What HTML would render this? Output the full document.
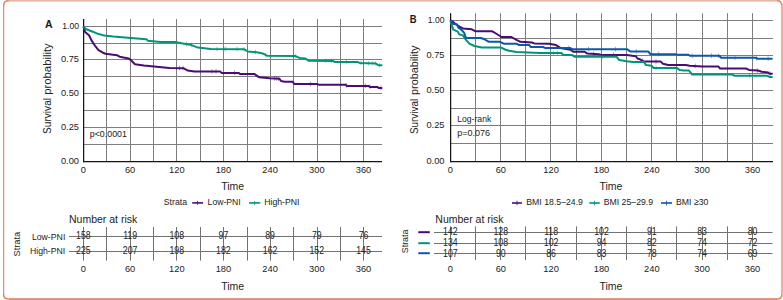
<!DOCTYPE html><html><head><meta charset="utf-8"><style>html,body{margin:0;padding:0;background:#fff;width:783px;height:300px;overflow:hidden}svg{display:block}text{font-family:"Liberation Sans",sans-serif}</style></head><body>
<svg width="783" height="300" viewBox="0 0 783 300">
<rect x="0" y="0" width="783" height="300" fill="#fff"/>
<rect x="8" y="0" width="769" height="1.6" fill="#edb4a5"/>
<rect x="780.9" y="5.5" width="2.1" height="288.5" fill="#ecb1a4"/>
<rect x="3" y="5.5" width="1.25" height="288.5" fill="#e88c72"/>
<rect x="8.5" y="298.2" width="768.5" height="1.8" fill="#e8856b"/>
<path d="M3.62,6 Q3.62,0.8 8.5,0.8 M777,0.8 Q781.9,0.8 781.9,5.8 M781.9,294 Q781.9,299.1 777,299.1 M3.62,294 Q3.62,299.1 8.5,299.1" fill="none" stroke="#e8845e" stroke-width="1.5"/>
<line x1="106.5" y1="19" x2="106.5" y2="161" stroke="#7d7d7d" stroke-width="1.05"/>
<line x1="130.5" y1="19" x2="130.5" y2="161" stroke="#7d7d7d" stroke-width="1.05"/>
<line x1="153.5" y1="19" x2="153.5" y2="161" stroke="#7d7d7d" stroke-width="1.05"/>
<line x1="176.5" y1="19" x2="176.5" y2="161" stroke="#7d7d7d" stroke-width="1.05"/>
<line x1="200.5" y1="19" x2="200.5" y2="161" stroke="#7d7d7d" stroke-width="1.05"/>
<line x1="223.5" y1="19" x2="223.5" y2="161" stroke="#7d7d7d" stroke-width="1.05"/>
<line x1="247.5" y1="19" x2="247.5" y2="161" stroke="#7d7d7d" stroke-width="1.05"/>
<line x1="270.5" y1="19" x2="270.5" y2="161" stroke="#7d7d7d" stroke-width="1.05"/>
<line x1="293.5" y1="19" x2="293.5" y2="161" stroke="#7d7d7d" stroke-width="1.05"/>
<line x1="317.5" y1="19" x2="317.5" y2="161" stroke="#7d7d7d" stroke-width="1.05"/>
<line x1="340.5" y1="19" x2="340.5" y2="161" stroke="#7d7d7d" stroke-width="1.05"/>
<line x1="363.5" y1="19" x2="363.5" y2="161" stroke="#7d7d7d" stroke-width="1.05"/>
<line x1="84" y1="26.5" x2="382" y2="26.5" stroke="#7d7d7d" stroke-width="1.05"/>
<line x1="84" y1="43.5" x2="382" y2="43.5" stroke="#7d7d7d" stroke-width="1.05"/>
<line x1="84" y1="59.5" x2="382" y2="59.5" stroke="#7d7d7d" stroke-width="1.05"/>
<line x1="84" y1="76.5" x2="382" y2="76.5" stroke="#7d7d7d" stroke-width="1.05"/>
<line x1="84" y1="93.5" x2="382" y2="93.5" stroke="#7d7d7d" stroke-width="1.05"/>
<line x1="84" y1="110.5" x2="382" y2="110.5" stroke="#7d7d7d" stroke-width="1.05"/>
<line x1="84" y1="127.5" x2="382" y2="127.5" stroke="#7d7d7d" stroke-width="1.05"/>
<line x1="84" y1="144.5" x2="382" y2="144.5" stroke="#7d7d7d" stroke-width="1.05"/>
<line x1="83.62" y1="19" x2="83.62" y2="162.2" stroke="#151515" stroke-width="1.25"/>
<line x1="83" y1="161.6" x2="382" y2="161.6" stroke="#151515" stroke-width="1.2"/>
<polyline points="83.4,26.4 85.1,32.0 89.0,35.3 91.5,40.4 95.3,46.2 98.5,50.1 103.0,52.7 105.5,53.7 117.0,55.2 119.6,56.7 128.5,58.4 131.0,60.3 135.0,64.2 143.9,65.4 156.6,66.7 169.4,68.0 183.3,68.2 187.8,70.6 194.2,71.6 220.3,71.6 221.6,72.9 238.9,72.9 240.0,73.9 254.2,73.9 259.3,77.3 269.5,78.2 279.5,78.8 281.0,81.0 284.7,81.7 292.8,81.7 294.2,84.0 317.0,84.0 318.5,84.7 345.6,84.7 347.0,85.9 368.4,85.9 369.9,86.9 377.2,86.9 378.7,87.9 382.3,87.9" fill="none" stroke="#4b0c72" stroke-width="2.0" stroke-linejoin="round" stroke-linecap="butt"/>
<line x1="179.5" y1="65.7" x2="179.5" y2="70.3" stroke="#4b0c72" stroke-width="0.9" opacity="0.5"/>
<line x1="183" y1="65.8" x2="183" y2="70.4" stroke="#4b0c72" stroke-width="0.9" opacity="0.5"/>
<line x1="212" y1="69.2" x2="212" y2="73.8" stroke="#4b0c72" stroke-width="0.9" opacity="0.5"/>
<line x1="216" y1="69.2" x2="216" y2="73.8" stroke="#4b0c72" stroke-width="0.9" opacity="0.5"/>
<line x1="234.5" y1="70.5" x2="234.5" y2="75.1" stroke="#4b0c72" stroke-width="0.9" opacity="0.5"/>
<line x1="274.4" y1="76.1" x2="274.4" y2="80.7" stroke="#4b0c72" stroke-width="0.9" opacity="0.5"/>
<line x1="276.6" y1="76.2" x2="276.6" y2="80.8" stroke="#4b0c72" stroke-width="0.9" opacity="0.5"/>
<line x1="278.8" y1="76.4" x2="278.8" y2="81.0" stroke="#4b0c72" stroke-width="0.9" opacity="0.5"/>
<line x1="310.4" y1="81.6" x2="310.4" y2="86.2" stroke="#4b0c72" stroke-width="0.9" opacity="0.5"/>
<line x1="346.4" y1="83.0" x2="346.4" y2="87.6" stroke="#4b0c72" stroke-width="0.9" opacity="0.5"/>
<line x1="365.4" y1="83.5" x2="365.4" y2="88.1" stroke="#4b0c72" stroke-width="0.9" opacity="0.5"/>
<line x1="369.9" y1="84.5" x2="369.9" y2="89.1" stroke="#4b0c72" stroke-width="0.9" opacity="0.5"/>
<line x1="380.9" y1="85.5" x2="380.9" y2="90.1" stroke="#4b0c72" stroke-width="0.9" opacity="0.5"/>
<polyline points="83.4,26.4 85.7,29.0 92.8,31.7 97.9,33.8 104.3,35.6 113.2,36.6 131.0,37.9 146.4,39.2 147.7,40.7 160.5,42.0 175.0,42.1 182.7,43.4 191.6,45.1 198.0,47.6 210.8,48.9 244.0,49.2 247.8,51.5 256.7,52.3 263.0,53.6 267.0,55.7 295.0,55.9 299.4,57.9 305.2,58.4 308.5,60.7 333.1,60.9 334.6,62.0 358.0,62.0 359.6,63.0 375.7,63.5 378.7,65.3 382.3,65.3" fill="none" stroke="#009479" stroke-width="2.0" stroke-linejoin="round" stroke-linecap="butt"/>
<line x1="186.5" y1="41.7" x2="186.5" y2="46.3" stroke="#009479" stroke-width="0.9" opacity="0.5"/>
<line x1="191.6" y1="42.7" x2="191.6" y2="47.3" stroke="#009479" stroke-width="0.9" opacity="0.5"/>
<line x1="217" y1="46.6" x2="217" y2="51.2" stroke="#009479" stroke-width="0.9" opacity="0.5"/>
<line x1="224" y1="46.6" x2="224" y2="51.2" stroke="#009479" stroke-width="0.9" opacity="0.5"/>
<line x1="226" y1="46.6" x2="226" y2="51.2" stroke="#009479" stroke-width="0.9" opacity="0.5"/>
<line x1="237" y1="46.7" x2="237" y2="51.3" stroke="#009479" stroke-width="0.9" opacity="0.5"/>
<line x1="244" y1="46.8" x2="244" y2="51.4" stroke="#009479" stroke-width="0.9" opacity="0.5"/>
<line x1="255.5" y1="49.8" x2="255.5" y2="54.4" stroke="#009479" stroke-width="0.9" opacity="0.5"/>
<line x1="265.7" y1="52.6" x2="265.7" y2="57.2" stroke="#009479" stroke-width="0.9" opacity="0.5"/>
<line x1="295.7" y1="53.8" x2="295.7" y2="58.4" stroke="#009479" stroke-width="0.9" opacity="0.5"/>
<line x1="325.8" y1="58.4" x2="325.8" y2="63.0" stroke="#009479" stroke-width="0.9" opacity="0.5"/>
<line x1="331.7" y1="58.5" x2="331.7" y2="63.1" stroke="#009479" stroke-width="0.9" opacity="0.5"/>
<line x1="346.4" y1="59.6" x2="346.4" y2="64.2" stroke="#009479" stroke-width="0.9" opacity="0.5"/>
<line x1="361" y1="60.6" x2="361" y2="65.2" stroke="#009479" stroke-width="0.9" opacity="0.5"/>
<line x1="368.4" y1="60.9" x2="368.4" y2="65.5" stroke="#009479" stroke-width="0.9" opacity="0.5"/>
<line x1="372.8" y1="61.0" x2="372.8" y2="65.6" stroke="#009479" stroke-width="0.9" opacity="0.5"/>
<line x1="375.7" y1="61.1" x2="375.7" y2="65.7" stroke="#009479" stroke-width="0.9" opacity="0.5"/>
<line x1="379.4" y1="62.9" x2="379.4" y2="67.5" stroke="#009479" stroke-width="0.9" opacity="0.5"/>
<text transform="translate(79,29.4) scale(0.9,1)" font-size="9.6" text-anchor="end" font-weight="normal" fill="#222222" >1.00</text>
<text transform="translate(79,62.4) scale(0.97,1)" font-size="9.6" text-anchor="end" font-weight="normal" fill="#222222" >0.75</text>
<text transform="translate(79,96.4) scale(0.97,1)" font-size="9.6" text-anchor="end" font-weight="normal" fill="#222222" >0.50</text>
<text transform="translate(79,130.4) scale(0.97,1)" font-size="9.6" text-anchor="end" font-weight="normal" fill="#222222" >0.25</text>
<text transform="translate(79,163.5) scale(0.97,1)" font-size="9.6" text-anchor="end" font-weight="normal" fill="#222222" >0.00</text>
<text transform="translate(83.4,172.9) scale(0.97,1)" font-size="9.6" text-anchor="middle" font-weight="normal" fill="#222222" >0</text>
<text transform="translate(130.1,172.9) scale(0.97,1)" font-size="9.6" text-anchor="middle" font-weight="normal" fill="#222222" >60</text>
<text transform="translate(176.8,172.9) scale(0.97,1)" font-size="9.6" text-anchor="middle" font-weight="normal" fill="#222222" >120</text>
<text transform="translate(223.4,172.9) scale(0.97,1)" font-size="9.6" text-anchor="middle" font-weight="normal" fill="#222222" >180</text>
<text transform="translate(270.1,172.9) scale(0.97,1)" font-size="9.6" text-anchor="middle" font-weight="normal" fill="#222222" >240</text>
<text transform="translate(316.8,172.9) scale(0.97,1)" font-size="9.6" text-anchor="middle" font-weight="normal" fill="#222222" >300</text>
<text transform="translate(363.5,172.9) scale(0.97,1)" font-size="9.6" text-anchor="middle" font-weight="normal" fill="#222222" >360</text>
<text x="45" y="27.7" font-size="10.5" text-anchor="start" font-weight="bold" fill="#1a1a1a" >A</text>
<text transform="translate(50.5,133.9) rotate(-90)" font-size="10.5" fill="#222222" textLength="35.9" lengthAdjust="spacingAndGlyphs">Survival</text>
<text transform="translate(50.5,94.7) rotate(-90)" font-size="10.5" fill="#222222" textLength="51.4" lengthAdjust="spacingAndGlyphs">probability</text>
<text transform="translate(89.8,137) scale(0.92,1)" font-size="9.6" text-anchor="start" font-weight="normal" fill="#222222" >p&lt;0.0001</text>
<text x="232.7" y="190" font-size="10.5" text-anchor="middle" font-weight="normal" fill="#222222" >Time</text>
<text transform="translate(163.8,204.8) scale(0.89,1)" font-size="9.8" text-anchor="start" font-weight="normal" fill="#222222" >Strata</text>
<line x1="192.2" y1="202.9" x2="203" y2="202.9" stroke="#4b0c72" stroke-width="1.6"/>
<line x1="197.6" y1="200.8" x2="197.6" y2="205" stroke="#4b0c72" stroke-width="0.7"/>
<text transform="translate(207.6,204.8) scale(0.8811,1)" font-size="9.8" text-anchor="start" font-weight="normal" fill="#222222" >Low-PNI</text>
<line x1="249" y1="202.9" x2="260.3" y2="202.9" stroke="#009479" stroke-width="1.6"/>
<line x1="254.6" y1="200.8" x2="254.6" y2="205" stroke="#009479" stroke-width="0.7"/>
<text transform="translate(264.2,204.8) scale(0.89,1)" font-size="9.8" text-anchor="start" font-weight="normal" fill="#222222" >High-PNI</text>
<text x="69" y="223" font-size="10.5" text-anchor="start" font-weight="normal" fill="#222222" >Number at risk</text>
<text transform="translate(19.8,244.2) rotate(-90) scale(1.05,1)" font-size="8.8" text-anchor="middle" fill="#222222">Strata</text>
<text transform="translate(65.3,239.8) scale(0.89,1)" font-size="9.8" text-anchor="end" font-weight="normal" fill="#222222" >Low-PNI</text>
<text transform="translate(65.3,254) scale(0.89,1)" font-size="9.8" text-anchor="end" font-weight="normal" fill="#222222" >High-PNI</text>
<line x1="83.5" y1="227" x2="83.5" y2="260.6" stroke="#727272" stroke-width="1.05"/>
<line x1="106.5" y1="227" x2="106.5" y2="260.6" stroke="#727272" stroke-width="1.05"/>
<line x1="130.5" y1="227" x2="130.5" y2="260.6" stroke="#727272" stroke-width="1.05"/>
<line x1="153.5" y1="227" x2="153.5" y2="260.6" stroke="#727272" stroke-width="1.05"/>
<line x1="176.5" y1="227" x2="176.5" y2="260.6" stroke="#727272" stroke-width="1.05"/>
<line x1="200.5" y1="227" x2="200.5" y2="260.6" stroke="#727272" stroke-width="1.05"/>
<line x1="223.5" y1="227" x2="223.5" y2="260.6" stroke="#727272" stroke-width="1.05"/>
<line x1="247.5" y1="227" x2="247.5" y2="260.6" stroke="#727272" stroke-width="1.05"/>
<line x1="270.5" y1="227" x2="270.5" y2="260.6" stroke="#727272" stroke-width="1.05"/>
<line x1="293.5" y1="227" x2="293.5" y2="260.6" stroke="#727272" stroke-width="1.05"/>
<line x1="317.5" y1="227" x2="317.5" y2="260.6" stroke="#727272" stroke-width="1.05"/>
<line x1="340.5" y1="227" x2="340.5" y2="260.6" stroke="#727272" stroke-width="1.05"/>
<line x1="363.5" y1="227" x2="363.5" y2="260.6" stroke="#727272" stroke-width="1.05"/>
<line x1="69" y1="236.5" x2="382" y2="236.5" stroke="#727272" stroke-width="1.05"/>
<line x1="69" y1="251.5" x2="382" y2="251.5" stroke="#727272" stroke-width="1.05"/>
<text transform="translate(83.4,239.1) scale(0.875,1)" font-size="10.0" text-anchor="middle" font-weight="normal" fill="#222222" >158</text>
<text transform="translate(130.1,239.1) scale(0.875,1)" font-size="10.0" text-anchor="middle" font-weight="normal" fill="#222222" >119</text>
<text transform="translate(176.8,239.1) scale(0.875,1)" font-size="10.0" text-anchor="middle" font-weight="normal" fill="#222222" >108</text>
<text transform="translate(223.4,239.1) scale(0.875,1)" font-size="10.0" text-anchor="middle" font-weight="normal" fill="#222222" >97</text>
<text transform="translate(270.1,239.1) scale(0.875,1)" font-size="10.0" text-anchor="middle" font-weight="normal" fill="#222222" >89</text>
<text transform="translate(316.8,239.1) scale(0.875,1)" font-size="10.0" text-anchor="middle" font-weight="normal" fill="#222222" >79</text>
<text transform="translate(363.5,239.1) scale(0.875,1)" font-size="10.0" text-anchor="middle" font-weight="normal" fill="#222222" >76</text>
<text transform="translate(83.4,253.6) scale(0.875,1)" font-size="10.0" text-anchor="middle" font-weight="normal" fill="#222222" >225</text>
<text transform="translate(130.1,253.6) scale(0.875,1)" font-size="10.0" text-anchor="middle" font-weight="normal" fill="#222222" >207</text>
<text transform="translate(176.8,253.6) scale(0.875,1)" font-size="10.0" text-anchor="middle" font-weight="normal" fill="#222222" >198</text>
<text transform="translate(223.4,253.6) scale(0.875,1)" font-size="10.0" text-anchor="middle" font-weight="normal" fill="#222222" >182</text>
<text transform="translate(270.1,253.6) scale(0.875,1)" font-size="10.0" text-anchor="middle" font-weight="normal" fill="#222222" >162</text>
<text transform="translate(316.8,253.6) scale(0.875,1)" font-size="10.0" text-anchor="middle" font-weight="normal" fill="#222222" >152</text>
<text transform="translate(363.5,253.6) scale(0.875,1)" font-size="10.0" text-anchor="middle" font-weight="normal" fill="#222222" >145</text>
<text transform="translate(83.4,271.8) scale(0.97,1)" font-size="9.6" text-anchor="middle" font-weight="normal" fill="#222222" >0</text>
<text transform="translate(130.1,271.8) scale(0.97,1)" font-size="9.6" text-anchor="middle" font-weight="normal" fill="#222222" >60</text>
<text transform="translate(176.8,271.8) scale(0.97,1)" font-size="9.6" text-anchor="middle" font-weight="normal" fill="#222222" >120</text>
<text transform="translate(223.4,271.8) scale(0.97,1)" font-size="9.6" text-anchor="middle" font-weight="normal" fill="#222222" >180</text>
<text transform="translate(270.1,271.8) scale(0.97,1)" font-size="9.6" text-anchor="middle" font-weight="normal" fill="#222222" >240</text>
<text transform="translate(316.8,271.8) scale(0.97,1)" font-size="9.6" text-anchor="middle" font-weight="normal" fill="#222222" >300</text>
<text transform="translate(363.5,271.8) scale(0.97,1)" font-size="9.6" text-anchor="middle" font-weight="normal" fill="#222222" >360</text>
<text x="232.7" y="290.1" font-size="10.5" text-anchor="middle" font-weight="normal" fill="#222222" >Time</text>
<line x1="475.5" y1="13.2" x2="475.5" y2="161" stroke="#7d7d7d" stroke-width="1.05"/>
<line x1="500.5" y1="13.2" x2="500.5" y2="161" stroke="#7d7d7d" stroke-width="1.05"/>
<line x1="525.5" y1="13.2" x2="525.5" y2="161" stroke="#7d7d7d" stroke-width="1.05"/>
<line x1="550.5" y1="13.2" x2="550.5" y2="161" stroke="#7d7d7d" stroke-width="1.05"/>
<line x1="576.5" y1="13.2" x2="576.5" y2="161" stroke="#7d7d7d" stroke-width="1.05"/>
<line x1="601.5" y1="13.2" x2="601.5" y2="161" stroke="#7d7d7d" stroke-width="1.05"/>
<line x1="626.5" y1="13.2" x2="626.5" y2="161" stroke="#7d7d7d" stroke-width="1.05"/>
<line x1="651.5" y1="13.2" x2="651.5" y2="161" stroke="#7d7d7d" stroke-width="1.05"/>
<line x1="676.5" y1="13.2" x2="676.5" y2="161" stroke="#7d7d7d" stroke-width="1.05"/>
<line x1="702.5" y1="13.2" x2="702.5" y2="161" stroke="#7d7d7d" stroke-width="1.05"/>
<line x1="727.5" y1="13.2" x2="727.5" y2="161" stroke="#7d7d7d" stroke-width="1.05"/>
<line x1="752.5" y1="13.2" x2="752.5" y2="161" stroke="#7d7d7d" stroke-width="1.05"/>
<line x1="451" y1="20.5" x2="773" y2="20.5" stroke="#7d7d7d" stroke-width="1.05"/>
<line x1="451" y1="38.5" x2="773" y2="38.5" stroke="#7d7d7d" stroke-width="1.05"/>
<line x1="451" y1="55.5" x2="773" y2="55.5" stroke="#7d7d7d" stroke-width="1.05"/>
<line x1="451" y1="73.5" x2="773" y2="73.5" stroke="#7d7d7d" stroke-width="1.05"/>
<line x1="451" y1="90.5" x2="773" y2="90.5" stroke="#7d7d7d" stroke-width="1.05"/>
<line x1="451" y1="108.5" x2="773" y2="108.5" stroke="#7d7d7d" stroke-width="1.05"/>
<line x1="451" y1="125.5" x2="773" y2="125.5" stroke="#7d7d7d" stroke-width="1.05"/>
<line x1="451" y1="143.5" x2="773" y2="143.5" stroke="#7d7d7d" stroke-width="1.05"/>
<line x1="450.62" y1="13.2" x2="450.62" y2="162.2" stroke="#151515" stroke-width="1.25"/>
<line x1="450" y1="161.6" x2="773" y2="161.6" stroke="#151515" stroke-width="1.2"/>
<polyline points="450.4,20.4 454.0,22.7 459.0,26.5 462.9,28.4 471.8,29.3 475.6,31.3 492.3,31.3 496.0,33.5 500.0,36.0 501.2,37.0 511.4,37.0 516.5,39.9 520.3,41.8 531.8,42.5 534.4,43.4 549.0,43.8 556.0,45.1 560.4,47.9 570.6,49.8 573.2,51.7 584.7,51.7 587.3,53.6 598.7,54.3 601.3,54.9 626.8,54.9 635.8,56.2 637.5,58.5 640.0,59.3 644.0,61.6 660.5,61.6 663.0,63.7 668.2,65.0 686.0,65.0 689.6,65.8 702.3,66.5 718.3,66.5 720.2,68.6 746.4,68.6 749.0,69.9 757.9,70.5 761.7,71.8 768.1,72.5 769.4,73.7 772.6,73.7" fill="none" stroke="#4b0c72" stroke-width="2.0" stroke-linejoin="round" stroke-linecap="butt"/>
<line x1="593.6" y1="51.6" x2="593.6" y2="56.2" stroke="#4b0c72" stroke-width="0.9" opacity="0.5"/>
<line x1="613.4" y1="52.5" x2="613.4" y2="57.1" stroke="#4b0c72" stroke-width="0.9" opacity="0.5"/>
<line x1="642.7" y1="58.5" x2="642.7" y2="63.1" stroke="#4b0c72" stroke-width="0.9" opacity="0.5"/>
<line x1="656" y1="59.2" x2="656" y2="63.8" stroke="#4b0c72" stroke-width="0.9" opacity="0.5"/>
<line x1="695.2" y1="63.7" x2="695.2" y2="68.3" stroke="#4b0c72" stroke-width="0.9" opacity="0.5"/>
<line x1="757.3" y1="68.1" x2="757.3" y2="72.7" stroke="#4b0c72" stroke-width="0.9" opacity="0.5"/>
<line x1="770" y1="71.3" x2="770" y2="75.9" stroke="#4b0c72" stroke-width="0.9" opacity="0.5"/>
<polyline points="450.4,20.4 452.0,25.9 453.3,29.7 457.8,31.6 459.0,34.2 462.9,35.4 466.0,39.9 469.3,43.7 474.4,46.0 482.0,47.6 501.2,47.6 505.0,49.5 508.9,50.8 516.5,52.0 540.0,53.0 561.7,53.0 563.0,54.9 572.0,54.9 574.5,56.8 616.6,56.8 619.2,60.0 626.8,61.3 633.0,62.0 644.0,62.0 645.9,65.0 651.6,65.7 653.5,68.0 677.1,68.0 679.7,70.1 683.5,70.5 689.0,70.5 692.1,74.6 732.4,74.6 734.3,75.7 766.8,75.7 769.4,76.9 772.6,76.9" fill="none" stroke="#009479" stroke-width="2.0" stroke-linejoin="round" stroke-linecap="butt"/>
<line x1="553.4" y1="50.6" x2="553.4" y2="55.2" stroke="#009479" stroke-width="0.9" opacity="0.5"/>
<line x1="557.2" y1="50.6" x2="557.2" y2="55.2" stroke="#009479" stroke-width="0.9" opacity="0.5"/>
<line x1="602.6" y1="54.4" x2="602.6" y2="59.0" stroke="#009479" stroke-width="0.9" opacity="0.5"/>
<line x1="645.2" y1="61.5" x2="645.2" y2="66.1" stroke="#009479" stroke-width="0.9" opacity="0.5"/>
<line x1="656" y1="65.6" x2="656" y2="70.2" stroke="#009479" stroke-width="0.9" opacity="0.5"/>
<line x1="749.6" y1="73.3" x2="749.6" y2="77.9" stroke="#009479" stroke-width="0.9" opacity="0.5"/>
<polyline points="450.4,20.4 452.7,23.7 457.1,24.6 458.4,27.8 461.6,30.0 464.2,32.9 466.0,38.0 480.8,38.0 484.6,39.3 489.0,41.8 500.0,41.8 503.7,43.7 516.5,43.7 519.0,45.0 529.3,45.0 530.6,47.0 543.0,47.0 545.0,47.9 570.0,47.9 572.0,49.2 626.8,49.2 630.7,51.6 648.4,51.6 650.3,54.2 675.9,54.2 677.1,54.8 688.6,54.8 689.9,55.8 719.3,55.8 721.2,57.8 755.4,57.8 757.9,58.8 772.6,58.8" fill="none" stroke="#0b59a6" stroke-width="2.0" stroke-linejoin="round" stroke-linecap="butt"/>
<line x1="568.7" y1="45.5" x2="568.7" y2="50.1" stroke="#0b59a6" stroke-width="0.9" opacity="0.5"/>
<line x1="588.5" y1="46.8" x2="588.5" y2="51.4" stroke="#0b59a6" stroke-width="0.9" opacity="0.5"/>
<line x1="615.4" y1="46.8" x2="615.4" y2="51.4" stroke="#0b59a6" stroke-width="0.9" opacity="0.5"/>
<line x1="636.3" y1="49.2" x2="636.3" y2="53.8" stroke="#0b59a6" stroke-width="0.9" opacity="0.5"/>
<line x1="658.6" y1="51.8" x2="658.6" y2="56.4" stroke="#0b59a6" stroke-width="0.9" opacity="0.5"/>
<line x1="692.3" y1="53.4" x2="692.3" y2="58.0" stroke="#0b59a6" stroke-width="0.9" opacity="0.5"/>
<line x1="711.5" y1="53.4" x2="711.5" y2="58.0" stroke="#0b59a6" stroke-width="0.9" opacity="0.5"/>
<line x1="718.5" y1="53.4" x2="718.5" y2="58.0" stroke="#0b59a6" stroke-width="0.9" opacity="0.5"/>
<line x1="735" y1="55.4" x2="735" y2="60.0" stroke="#0b59a6" stroke-width="0.9" opacity="0.5"/>
<line x1="756.6" y1="55.9" x2="756.6" y2="60.5" stroke="#0b59a6" stroke-width="0.9" opacity="0.5"/>
<line x1="768.1" y1="56.4" x2="768.1" y2="61.0" stroke="#0b59a6" stroke-width="0.9" opacity="0.5"/>
<text transform="translate(444.5,23.4) scale(0.9,1)" font-size="9.6" text-anchor="end" font-weight="normal" fill="#222222" >1.00</text>
<text transform="translate(444.5,58.4) scale(0.97,1)" font-size="9.6" text-anchor="end" font-weight="normal" fill="#222222" >0.75</text>
<text transform="translate(444.5,93.4) scale(0.97,1)" font-size="9.6" text-anchor="end" font-weight="normal" fill="#222222" >0.50</text>
<text transform="translate(444.5,128.4) scale(0.97,1)" font-size="9.6" text-anchor="end" font-weight="normal" fill="#222222" >0.25</text>
<text transform="translate(444.5,163.7) scale(0.97,1)" font-size="9.6" text-anchor="end" font-weight="normal" fill="#222222" >0.00</text>
<text transform="translate(450.4,172.9) scale(0.97,1)" font-size="9.6" text-anchor="middle" font-weight="normal" fill="#222222" >0</text>
<text transform="translate(500.8,172.9) scale(0.97,1)" font-size="9.6" text-anchor="middle" font-weight="normal" fill="#222222" >60</text>
<text transform="translate(551.1,172.9) scale(0.97,1)" font-size="9.6" text-anchor="middle" font-weight="normal" fill="#222222" >120</text>
<text transform="translate(601.5,172.9) scale(0.97,1)" font-size="9.6" text-anchor="middle" font-weight="normal" fill="#222222" >180</text>
<text transform="translate(651.8,172.9) scale(0.97,1)" font-size="9.6" text-anchor="middle" font-weight="normal" fill="#222222" >240</text>
<text transform="translate(702.1,172.9) scale(0.97,1)" font-size="9.6" text-anchor="middle" font-weight="normal" fill="#222222" >300</text>
<text transform="translate(752.5,172.9) scale(0.97,1)" font-size="9.6" text-anchor="middle" font-weight="normal" fill="#222222" >360</text>
<text transform="translate(409.8,22.8) scale(0.9,1)" font-size="10.5" text-anchor="start" font-weight="bold" fill="#1a1a1a" >B</text>
<text transform="translate(417.6,134.1) rotate(-90)" font-size="10.5" fill="#222222" textLength="35.2" lengthAdjust="spacingAndGlyphs">Survival</text>
<text transform="translate(417.6,94.9) rotate(-90)" font-size="10.5" fill="#222222" textLength="49.2" lengthAdjust="spacingAndGlyphs">probability</text>
<text transform="translate(457.2,121.8) scale(0.9,1)" font-size="9.6" text-anchor="start" font-weight="normal" fill="#222222" >Log-rank</text>
<text transform="translate(457.2,135.5) scale(0.94,1)" font-size="9.6" text-anchor="start" font-weight="normal" fill="#222222" >p=0.076</text>
<text x="611" y="189.9" font-size="10.5" text-anchor="middle" font-weight="normal" fill="#222222" >Time</text>
<line x1="512" y1="203" x2="521.9" y2="203" stroke="#4b0c72" stroke-width="1.6"/>
<line x1="517.0" y1="200.7" x2="517.0" y2="205.3" stroke="#4b0c72" stroke-width="0.8"/>
<text transform="translate(526.3,204.8) scale(0.89,1)" font-size="9.8" text-anchor="start" font-weight="normal" fill="#222222" >BMI 18.5–24.9</text>
<line x1="589.3" y1="203" x2="599.8" y2="203" stroke="#009479" stroke-width="1.6"/>
<line x1="594.5" y1="200.7" x2="594.5" y2="205.3" stroke="#009479" stroke-width="0.8"/>
<text transform="translate(603.7,204.8) scale(0.89,1)" font-size="9.8" text-anchor="start" font-weight="normal" fill="#222222" >BMI 25–29.9</text>
<line x1="661" y1="203" x2="672" y2="203" stroke="#0b59a6" stroke-width="1.6"/>
<line x1="666.5" y1="200.7" x2="666.5" y2="205.3" stroke="#0b59a6" stroke-width="0.8"/>
<text transform="translate(676,204.8) scale(0.89,1)" font-size="9.8" text-anchor="start" font-weight="normal" fill="#222222" >BMI ≥30</text>
<text x="435.3" y="223" font-size="10.5" text-anchor="start" font-weight="normal" fill="#222222" >Number at risk</text>
<text transform="translate(408.4,241.4) rotate(-90)" font-size="8.8" text-anchor="middle" fill="#222222">Strata</text>
<line x1="450.5" y1="226.4" x2="450.5" y2="260" stroke="#727272" stroke-width="1.05"/>
<line x1="475.5" y1="226.4" x2="475.5" y2="260" stroke="#727272" stroke-width="1.05"/>
<line x1="500.5" y1="226.4" x2="500.5" y2="260" stroke="#727272" stroke-width="1.05"/>
<line x1="525.5" y1="226.4" x2="525.5" y2="260" stroke="#727272" stroke-width="1.05"/>
<line x1="550.5" y1="226.4" x2="550.5" y2="260" stroke="#727272" stroke-width="1.05"/>
<line x1="576.5" y1="226.4" x2="576.5" y2="260" stroke="#727272" stroke-width="1.05"/>
<line x1="601.5" y1="226.4" x2="601.5" y2="260" stroke="#727272" stroke-width="1.05"/>
<line x1="626.5" y1="226.4" x2="626.5" y2="260" stroke="#727272" stroke-width="1.05"/>
<line x1="651.5" y1="226.4" x2="651.5" y2="260" stroke="#727272" stroke-width="1.05"/>
<line x1="676.5" y1="226.4" x2="676.5" y2="260" stroke="#727272" stroke-width="1.05"/>
<line x1="702.5" y1="226.4" x2="702.5" y2="260" stroke="#727272" stroke-width="1.05"/>
<line x1="727.5" y1="226.4" x2="727.5" y2="260" stroke="#727272" stroke-width="1.05"/>
<line x1="752.5" y1="226.4" x2="752.5" y2="260" stroke="#727272" stroke-width="1.05"/>
<line x1="418.3" y1="232.2" x2="429.8" y2="232.2" stroke="#4b0c72" stroke-width="2"/>
<line x1="434" y1="232.5" x2="772.5" y2="232.5" stroke="#727272" stroke-width="1.05"/>
<line x1="418.3" y1="243.2" x2="429.8" y2="243.2" stroke="#009479" stroke-width="2"/>
<line x1="434" y1="243.5" x2="772.5" y2="243.5" stroke="#727272" stroke-width="1.05"/>
<line x1="418.3" y1="253.2" x2="429.8" y2="253.2" stroke="#0b59a6" stroke-width="2"/>
<line x1="434" y1="253.5" x2="772.5" y2="253.5" stroke="#727272" stroke-width="1.05"/>
<text transform="translate(450.4,235.2) scale(0.875,1)" font-size="10.0" text-anchor="middle" font-weight="normal" fill="#222222" >142</text>
<text transform="translate(500.8,235.2) scale(0.875,1)" font-size="10.0" text-anchor="middle" font-weight="normal" fill="#222222" >128</text>
<text transform="translate(551.1,235.2) scale(0.875,1)" font-size="10.0" text-anchor="middle" font-weight="normal" fill="#222222" >118</text>
<text transform="translate(601.5,235.2) scale(0.875,1)" font-size="10.0" text-anchor="middle" font-weight="normal" fill="#222222" >102</text>
<text transform="translate(651.8,235.2) scale(0.875,1)" font-size="10.0" text-anchor="middle" font-weight="normal" fill="#222222" >91</text>
<text transform="translate(702.1,235.2) scale(0.875,1)" font-size="10.0" text-anchor="middle" font-weight="normal" fill="#222222" >83</text>
<text transform="translate(752.5,235.2) scale(0.875,1)" font-size="10.0" text-anchor="middle" font-weight="normal" fill="#222222" >80</text>
<text transform="translate(450.4,246.2) scale(0.875,1)" font-size="10.0" text-anchor="middle" font-weight="normal" fill="#222222" >134</text>
<text transform="translate(500.8,246.2) scale(0.875,1)" font-size="10.0" text-anchor="middle" font-weight="normal" fill="#222222" >108</text>
<text transform="translate(551.1,246.2) scale(0.875,1)" font-size="10.0" text-anchor="middle" font-weight="normal" fill="#222222" >102</text>
<text transform="translate(601.5,246.2) scale(0.875,1)" font-size="10.0" text-anchor="middle" font-weight="normal" fill="#222222" >94</text>
<text transform="translate(651.8,246.2) scale(0.875,1)" font-size="10.0" text-anchor="middle" font-weight="normal" fill="#222222" >82</text>
<text transform="translate(702.1,246.2) scale(0.875,1)" font-size="10.0" text-anchor="middle" font-weight="normal" fill="#222222" >74</text>
<text transform="translate(752.5,246.2) scale(0.875,1)" font-size="10.0" text-anchor="middle" font-weight="normal" fill="#222222" >72</text>
<text transform="translate(450.4,257.1) scale(0.875,1)" font-size="10.0" text-anchor="middle" font-weight="normal" fill="#222222" >107</text>
<text transform="translate(500.8,257.1) scale(0.875,1)" font-size="10.0" text-anchor="middle" font-weight="normal" fill="#222222" >90</text>
<text transform="translate(551.1,257.1) scale(0.875,1)" font-size="10.0" text-anchor="middle" font-weight="normal" fill="#222222" >86</text>
<text transform="translate(601.5,257.1) scale(0.875,1)" font-size="10.0" text-anchor="middle" font-weight="normal" fill="#222222" >83</text>
<text transform="translate(651.8,257.1) scale(0.875,1)" font-size="10.0" text-anchor="middle" font-weight="normal" fill="#222222" >78</text>
<text transform="translate(702.1,257.1) scale(0.875,1)" font-size="10.0" text-anchor="middle" font-weight="normal" fill="#222222" >74</text>
<text transform="translate(752.5,257.1) scale(0.875,1)" font-size="10.0" text-anchor="middle" font-weight="normal" fill="#222222" >69</text>
<text transform="translate(450.4,271.8) scale(0.97,1)" font-size="9.6" text-anchor="middle" font-weight="normal" fill="#222222" >0</text>
<text transform="translate(500.8,271.8) scale(0.97,1)" font-size="9.6" text-anchor="middle" font-weight="normal" fill="#222222" >60</text>
<text transform="translate(551.1,271.8) scale(0.97,1)" font-size="9.6" text-anchor="middle" font-weight="normal" fill="#222222" >120</text>
<text transform="translate(601.5,271.8) scale(0.97,1)" font-size="9.6" text-anchor="middle" font-weight="normal" fill="#222222" >180</text>
<text transform="translate(651.8,271.8) scale(0.97,1)" font-size="9.6" text-anchor="middle" font-weight="normal" fill="#222222" >240</text>
<text transform="translate(702.1,271.8) scale(0.97,1)" font-size="9.6" text-anchor="middle" font-weight="normal" fill="#222222" >300</text>
<text transform="translate(752.5,271.8) scale(0.97,1)" font-size="9.6" text-anchor="middle" font-weight="normal" fill="#222222" >360</text>
<text x="611" y="290.1" font-size="10.5" text-anchor="middle" font-weight="normal" fill="#222222" >Time</text>
</svg></body></html>
